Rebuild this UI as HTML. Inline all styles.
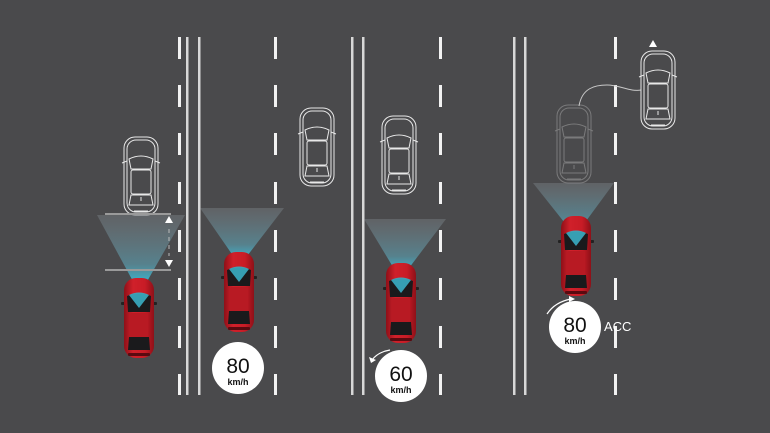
<!DOCTYPE html>
<html><head><meta charset="utf-8"><style>
html,body{margin:0;padding:0;background:#4a4a4c;}
svg{display:block}
</style></head><body>
<svg width="770" height="433" viewBox="0 0 770 433" xmlns="http://www.w3.org/2000/svg">
<defs>
  <g id="dcol" fill="#f2f2f2">
    <rect x="0" y="37" width="3" height="22"/>
    <rect x="0" y="85" width="3" height="22"/>
    <rect x="0" y="133" width="3" height="22"/>
    <rect x="0" y="182" width="3" height="22"/>
    <rect x="0" y="230" width="3" height="22"/>
    <rect x="0" y="278" width="3" height="22"/>
    <rect x="0" y="326" width="3" height="22"/>
    <rect x="0" y="374" width="3" height="21"/>
  </g>
  <linearGradient id="cone" x1="0" y1="0" x2="0" y2="1">
    <stop offset="0" stop-color="#8a9096" stop-opacity="0.35"/>
    <stop offset="0.7" stop-color="#5fa6b8" stop-opacity="0.6"/>
    <stop offset="1" stop-color="#2fc3e0" stop-opacity="0.95"/>
  </linearGradient>
  <linearGradient id="body" x1="0" y1="0" x2="1" y2="0">
    <stop offset="0" stop-color="#8e1018"/>
    <stop offset="0.3" stop-color="#d0202a"/>
    <stop offset="0.7" stop-color="#c81c26"/>
    <stop offset="1" stop-color="#8e1018"/>
  </linearGradient>
  <g id="red">
    <rect x="-3" y="24" width="36" height="3" rx="1" fill="#222"/>
    <rect x="0" y="0" width="30" height="80" rx="12" fill="url(#body)"/>
    <path d="M3 18 Q15 13 27 18 L26 34 L4 34 Z" fill="#1a1a1c"/>
    <path d="M5 17 Q15 12 25 17 L15 30 Z" fill="#3aaec4" opacity="0.9"/>
    <rect x="6" y="35" width="18" height="24" rx="2" fill="#b81a23"/>
    <path d="M5 59 L25 59 L26 72 L4 72 Z" fill="#1a1a1c"/>
    <rect x="4" y="75" width="22" height="3" rx="1" fill="#5a0a10"/>
  </g>
  <g id="ghost" fill="none" stroke="#e8e8e8" stroke-width="1">
    <rect x="0" y="0" width="34" height="78" rx="11"/>
    <rect x="3" y="3" width="28" height="72" rx="9"/>
    <path d="M5 22 Q17 16 29 22 L27 32 L7 32 Z"/>
    <rect x="7" y="33" width="20" height="24" rx="2"/>
    <path d="M7 58 L27 58 L29 68 L5 68 Z"/>
    <path d="M-2 26 L3 24 M36 26 L31 24"/>
    <path d="M17 60 L17 64"/>
    <path d="M10 74 L24 74"/>
  </g>
</defs>

<!-- lane markings -->
<use href="#dcol" x="178"/>
<use href="#dcol" x="274"/>
<use href="#dcol" x="439"/>
<use href="#dcol" x="614"/>
<g fill="#d8d8d8">
  <rect x="186" y="37" width="2.5" height="358"/>
  <rect x="198" y="37" width="2.5" height="358"/>
  <rect x="351" y="37" width="2.5" height="358"/>
  <rect x="362" y="37" width="2.5" height="358"/>
  <rect x="513" y="37" width="2.5" height="358"/>
  <rect x="524" y="37" width="2.5" height="358"/>
</g>

<!-- Section 1 -->
<use href="#ghost" x="124" y="137"/>
<path d="M97 215 L185 215 L145 285 L135 285 Z" fill="url(#cone)"/>
<rect x="105" y="213" width="66" height="2" fill="#9a9a9a"/>
<rect x="105" y="269" width="66" height="2" fill="#9a9a9a"/>
<path d="M165 223 L173 223 L169 216 Z" fill="#fff"/>
<path d="M165 260 L173 260 L169 267 Z" fill="#fff"/>
<path d="M169 229 L169 256" stroke="#bbb" stroke-width="1" stroke-dasharray="4 4"/>
<use href="#red" x="124" y="278"/>

<!-- Section 2 -->
<use href="#ghost" x="300" y="108"/>
<path d="M200 208 L284 208 L244 260 L236 260 Z" fill="url(#cone)"/>
<use href="#red" x="224" y="252"/>
<circle cx="238" cy="368" r="26" fill="#fff"/>
<text x="238" y="373" text-anchor="middle" font-family="Liberation Sans, sans-serif" font-size="21" fill="#111">80</text>
<text x="238" y="385" text-anchor="middle" font-family="Liberation Sans, sans-serif" font-size="9" font-weight="bold" fill="#111">km/h</text>

<!-- Section 3 -->
<use href="#ghost" x="382" y="116"/>
<path d="M364 219 L446 219 L406 272 L396 272 Z" fill="url(#cone)"/>
<use href="#red" x="386" y="263"/>
<path d="M390 350 Q378 352 372 360" fill="none" stroke="#fff" stroke-width="1.2"/>
<path d="M369 357 L371 363 L376 360 Z" fill="#fff"/>
<circle cx="401" cy="376" r="26" fill="#fff"/>
<text x="401" y="381" text-anchor="middle" font-family="Liberation Sans, sans-serif" font-size="21" fill="#111">60</text>
<text x="401" y="393" text-anchor="middle" font-family="Liberation Sans, sans-serif" font-size="9" font-weight="bold" fill="#111">km/h</text>

<!-- Section 4 -->
<g opacity="0.3"><use href="#ghost" x="557" y="105"/></g>
<path d="M579 106 C582 88 595 85 607 85 C620 85 630 92 641 90" fill="none" stroke="#c8c8c8" stroke-width="1"/>
<use href="#ghost" x="641" y="51"/>
<path d="M649 47 L657 47 L653 40 Z" fill="#fff"/>
<path d="M533 183 L614 183 L578 232 L572 232 Z" fill="url(#cone)"/>
<use href="#red" x="561" y="216"/>
<path d="M547 314 Q555 302 571 299" fill="none" stroke="#fff" stroke-width="1.2"/>
<path d="M569 296 L575 299 L569 302 Z" fill="#fff"/>
<circle cx="575" cy="327" r="26" fill="#fff"/>
<text x="575" y="332" text-anchor="middle" font-family="Liberation Sans, sans-serif" font-size="21" fill="#111">80</text>
<text x="575" y="344" text-anchor="middle" font-family="Liberation Sans, sans-serif" font-size="9" font-weight="bold" fill="#111">km/h</text>
<text x="604" y="331" font-family="Liberation Sans, sans-serif" font-size="13" fill="#fff">ACC</text>
</svg>
</body></html>
